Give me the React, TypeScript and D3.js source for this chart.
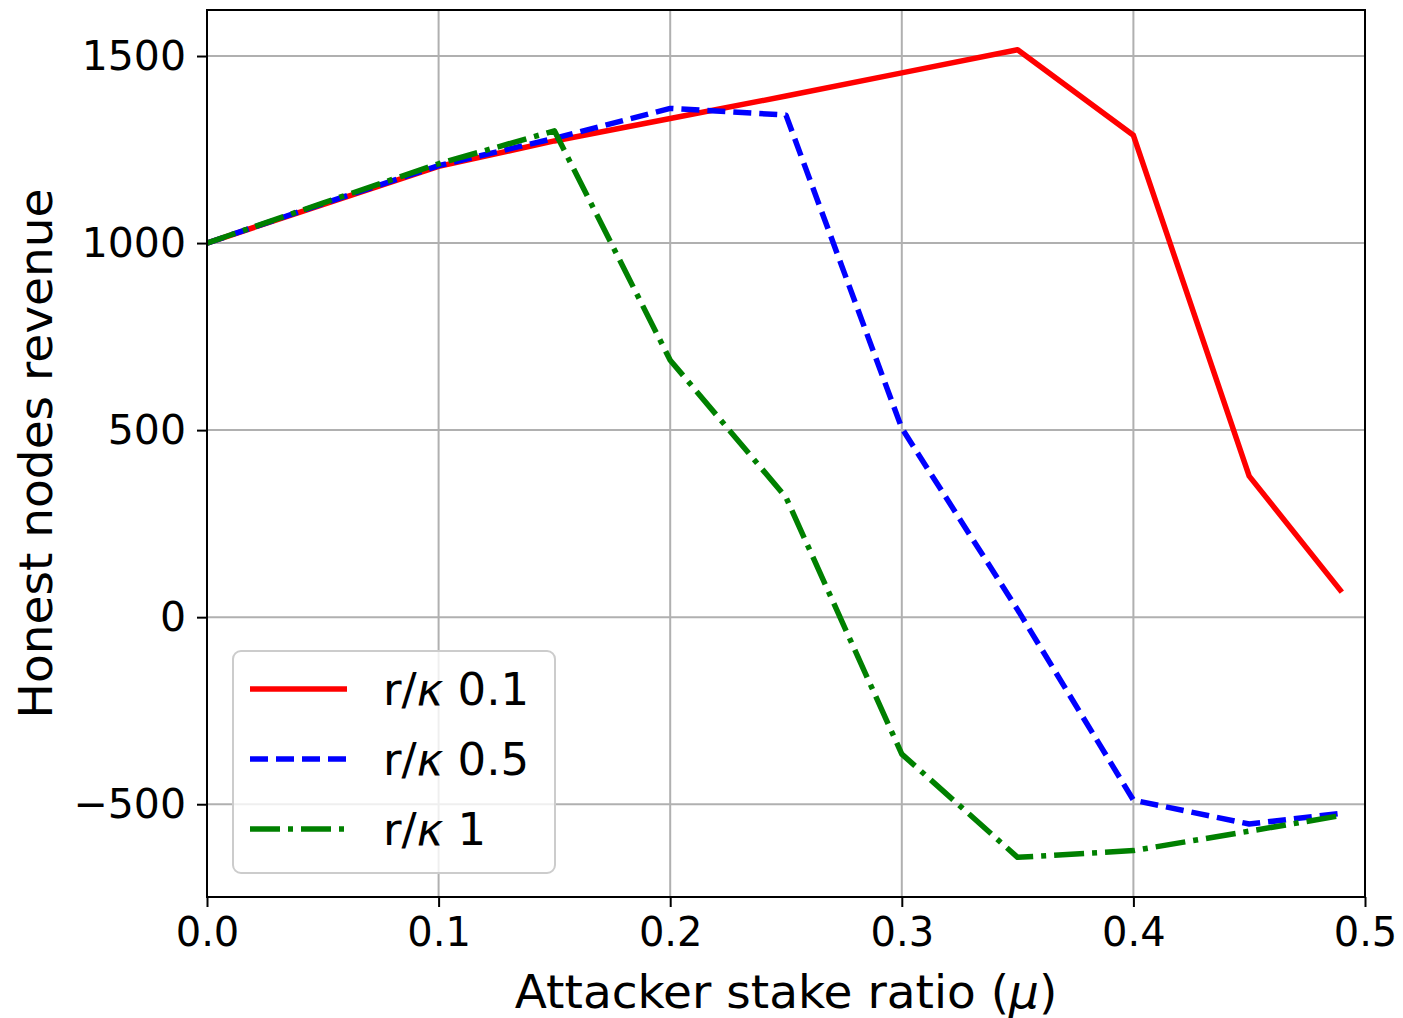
import * as d3 from "d3";
import {useEffect, useRef} from "react";

const mu = [0, 0.05, 0.1, 0.15, 0.2, 0.25, 0.3, 0.35, 0.4, 0.45, 0.49];
const red01 = [1000, 1103, 1205, 1273, 1333, 1393, 1455, 1517, 1288, 377, 67];
const blue05 = [1000, 1105, 1207, 1280, 1360, 1342, 505, 20, -489, -553, -524];
const green1 = [1000, 1107, 1212, 1300, 687, 320, -366, -642, -624, -572, -530];
const xTicks = [0, 0.1, 0.2, 0.3, 0.4, 0.5];
const yTicks = [-500, 0, 500, 1000, 1500];

const series = [
    {label: "0.1", values: red01, color: "#ff0000", dash: null},
    {label: "0.5", values: blue05, color: "#0000ff", dash: "18,8"},
    {label: "1", values: green1, color: "#008000", dash: "30,8,5,8"},
];

const W = 1403, H = 1018;
const m = {left: 207, right: 1365, top: 10, bottom: 897};
const font = "'DejaVu Sans', sans-serif";

const App = () => {
    const ref = useRef(null);

    useEffect(() => {
        const svg = d3.select(ref.current);
        svg.selectAll("*").remove();

        const x = d3.scaleLinear().domain([0, 0.5]).range([m.left, m.right]);
        const y = d3.scaleLinear().domain([-748, 1623]).range([m.bottom, m.top]);

        // grid
        svg.append("g").selectAll("line").data(xTicks).enter().append("line")
            .attr("x1", d => x(d)).attr("x2", d => x(d))
            .attr("y1", m.top).attr("y2", m.bottom)
            .attr("stroke", "#b0b0b0").attr("stroke-width", 2);
        svg.append("g").selectAll("line").data(yTicks).enter().append("line")
            .attr("x1", m.left).attr("x2", m.right)
            .attr("y1", d => y(d)).attr("y2", d => y(d))
            .attr("stroke", "#b0b0b0").attr("stroke-width", 2);

        // lines
        const line = d3.line<number>()
            .x((d, i) => x(mu[i]))
            .y(d => y(d));
        series.forEach(s => {
            svg.append("path")
                .attr("d", line(s.values))
                .attr("fill", "none")
                .attr("stroke", s.color)
                .attr("stroke-width", 5.5)
                .attr("stroke-dasharray", s.dash)
                .attr("stroke-linejoin", "round");
        });

        // frame
        svg.append("rect")
            .attr("x", m.left).attr("y", m.top)
            .attr("width", m.right - m.left).attr("height", m.bottom - m.top)
            .attr("fill", "none").attr("stroke", "black").attr("stroke-width", 2);

        // ticks
        const xAxis = svg.append("g").attr("transform", `translate(0,${m.bottom})`)
            .call(d3.axisBottom(x).tickValues(xTicks).tickFormat(d3.format(".1f")).tickSize(10).tickSizeOuter(0));
        xAxis.select(".domain").remove();
        xAxis.selectAll("line").attr("stroke-width", 2);
        xAxis.selectAll("text").attr("font-size", 40).attr("font-family", font).attr("dy", "0.9em").attr("fill", "black");

        const yAxis = svg.append("g").attr("transform", `translate(${m.left},0)`)
            .call(d3.axisLeft(y).tickValues(yTicks).tickFormat(d => String(d).replace("-", "\u2212")).tickSize(10).tickSizeOuter(0));
        yAxis.select(".domain").remove();
        yAxis.selectAll("line").attr("stroke-width", 2);
        yAxis.selectAll("text").attr("font-size", 41).attr("font-family", font).attr("x", -21).attr("fill", "black");

        // axis labels
        const xl = svg.append("text")
            .attr("x", (m.left + m.right) / 2).attr("y", 1008)
            .attr("text-anchor", "middle").attr("font-family", font).attr("font-size", 47);
        xl.append("tspan").text("Attacker stake ratio (");
        xl.append("tspan").attr("font-style", "italic").text("\u03bc");
        xl.append("tspan").text(")");
        svg.append("text")
            .attr("transform", `translate(52,${(m.top + m.bottom) / 2}) rotate(-90)`)
            .attr("text-anchor", "middle").attr("font-family", font).attr("font-size", 47)
            .text("Honest nodes revenue");

        // legend
        const lg = svg.append("g");
        lg.append("rect")
            .attr("x", 233).attr("y", 651).attr("width", 322).attr("height", 222)
            .attr("rx", 8).attr("fill", "white").attr("fill-opacity", 0.8)
            .attr("stroke", "#cccccc").attr("stroke-width", 2);
        series.forEach((s, i) => {
            const ly = 689 + i * 70;
            lg.append("line")
                .attr("x1", 250).attr("x2", 347).attr("y1", ly).attr("y2", ly)
                .attr("stroke", s.color).attr("stroke-width", 5.5)
                .attr("stroke-dasharray", s.dash);
            const t = lg.append("text")
                .attr("x", 383).attr("y", ly).attr("dy", "0.35em")
                .attr("font-family", font).attr("font-size", 45);
            t.append("tspan").text("r/");
            t.append("tspan").attr("font-style", "italic").text("\u03ba");
            t.append("tspan").text(" " + s.label);
        });
    }, []);

    return (
        <svg ref={ref} width={W} height={H}
             style={{position: "absolute", left: 0, top: 0, background: "white"}}>
        </svg>
    );
}

export default App;
